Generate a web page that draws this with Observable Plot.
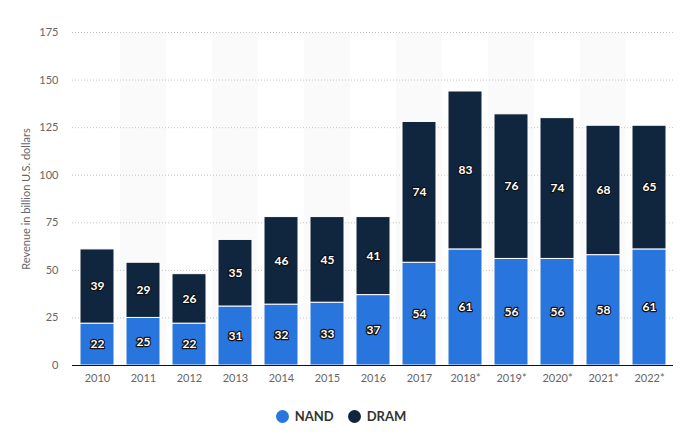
<!DOCTYPE html>
<html><head><meta charset="utf-8">
<script src="https://cdn.jsdelivr.net/npm/d3@7"></script>
<script src="https://cdn.jsdelivr.net/npm/@observablehq/plot@0.6"></script>
<style>
body{margin:0;background:#fff;font-family:Lato,"Open Sans",sans-serif;}
#legend{display:flex;justify-content:center;align-items:center;gap:14px;font-size:13px;font-weight:bold;color:#333;height:30px;margin-top:6px;}
#legend span.dot{display:inline-block;width:13px;height:13px;border-radius:50%;margin-right:6px;vertical-align:-2px;}
</style></head>
<body>
<div id="chart"></div>
<div id="legend"></div>
<script>
const years = ["2010","2011","2012","2013","2014","2015","2016","2017","2018*","2019*","2020*","2021*","2022*"];
const nand = [22,25,22,31,32,33,37,54,61,56,56,58,61];
const dram = [39,29,26,35,46,45,41,74,83,76,74,68,65];
const series = ["NAND","DRAM"];
const colors = ["#2876dd","#10263f"];
const yTicks = [0,25,50,75,100,125,150,175];

const rows = [];
years.forEach((y,i)=>{
  rows.push({year:y, series:"NAND", value:nand[i]});
  rows.push({year:y, series:"DRAM", value:dram[i]});
});
const bands = years.filter((y,i)=>i%2===1);

const chart = Plot.plot({
  width:682, height:395,
  marginLeft:72, marginRight:9, marginTop:32, marginBottom:30,
  style:{fontFamily:"Lato, 'Open Sans', sans-serif", fontSize:"11px", color:"#666", background:"#fff"},
  x:{domain:years, paddingInner:0.265, paddingOuter:0.1325, label:null, tickSize:0, tickPadding:9},
  y:{domain:[0,175], ticks:yTicks, label:"Revenue in billion U.S. dollars", labelAnchor:"center", labelArrow:"none", labelOffset:50, tickSize:0, tickPadding:14},
  color:{domain:series, range:colors},
  marks:[
    Plot.barY(bands,{x:d=>d, y1:0, y2:175, fill:"#fafafa", insetLeft:-6.1, insetRight:-6.1}),
    Plot.gridY(yTicks.filter(t=>t>0),{stroke:"#c4c4c4", strokeOpacity:1, strokeDasharray:"1,2", strokeWidth:1}),
    Plot.barY(rows, Plot.stackY({x:"year", y:"value", fill:"series", order:series, stroke:"white", strokeWidth:1})),
    Plot.text(rows, Plot.stackY({x:"year", y:"value", z:"series", order:series, text:d=>String(d.value), fill:"white", stroke:"#111", strokeWidth:2.5, fontWeight:"bold", fontSize:12})),
    Plot.ruleY([0],{stroke:"#111", strokeWidth:1.2})
  ]
});
document.getElementById("chart").appendChild(chart);
const lg = document.getElementById("legend");
series.forEach((s,i)=>{
  const d = document.createElement("div");
  d.innerHTML = `<span class="dot" style="background:${colors[i]}"></span>${s}`;
  lg.appendChild(d);
});
</script>
</body></html>
